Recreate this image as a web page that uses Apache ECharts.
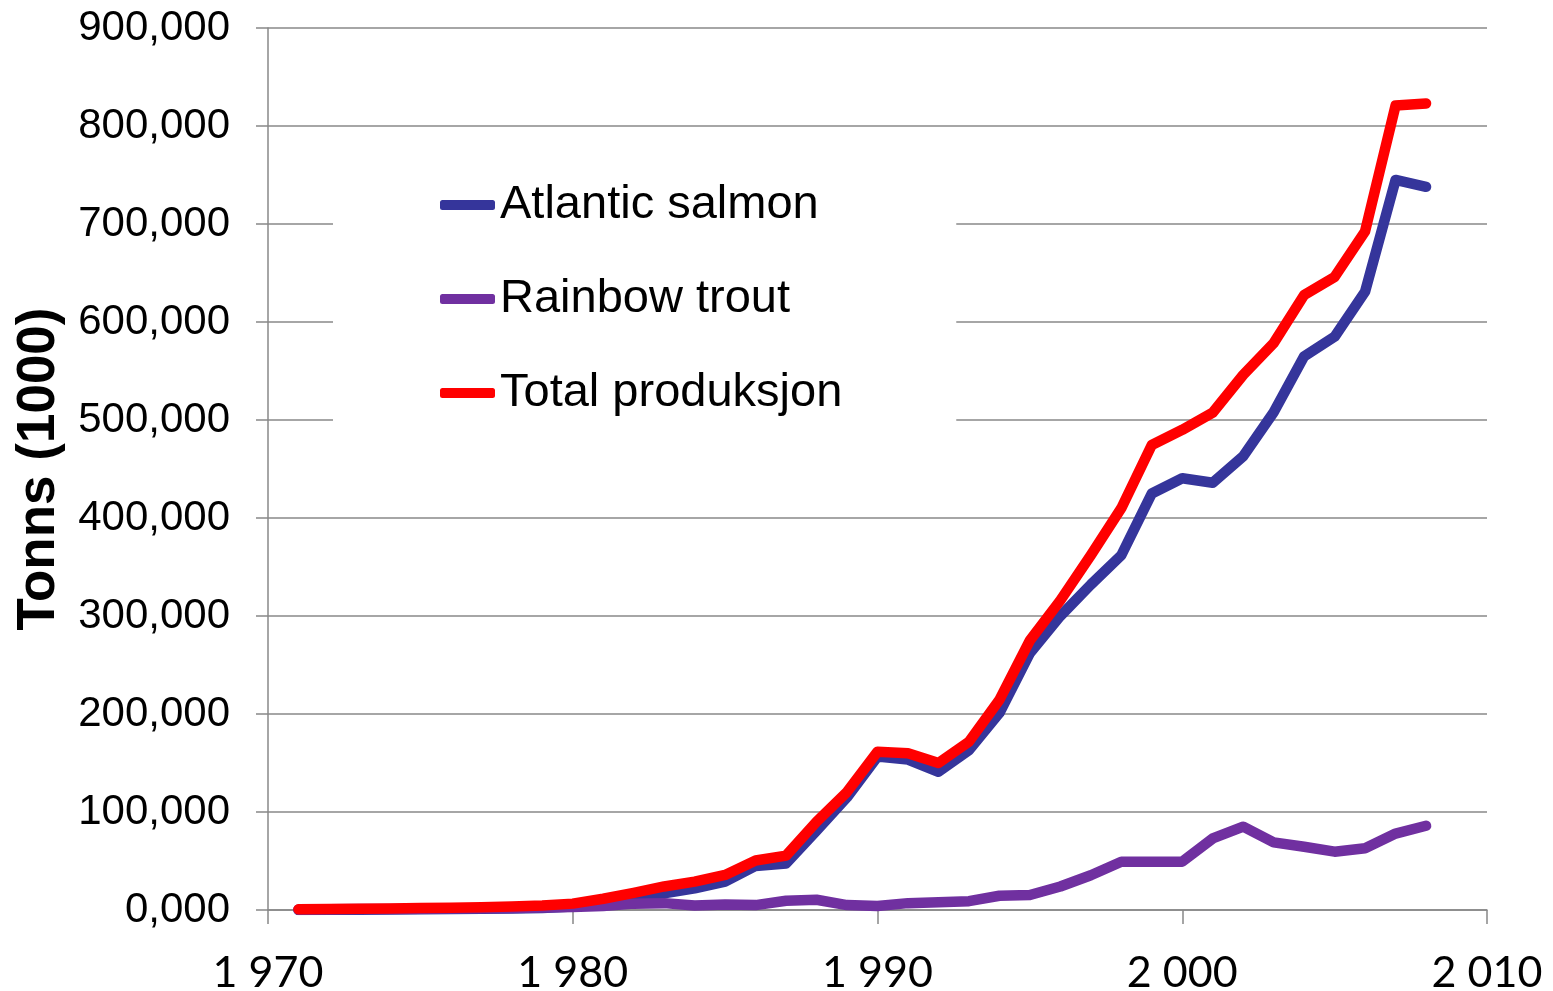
<!DOCTYPE html>
<html>
<head>
<meta charset="utf-8">
<script src="https://cdn.jsdelivr.net/npm/echarts@6/dist/echarts.min.js"></script>
<style>
html,body{margin:0;padding:0;background:#fff;}
#chart{width:1553px;height:991px;}
</style>
</head>
<body>
<div id="chart"></div>
<script>
const years = [1971,1972,1973,1974,1975,1976,1977,1978,1979,1980,1981,1982,1983,1984,1985,1986,1987,1988,1989,1990,1991,1992,1993,1994,1995,1996,1997,1998,1999,2000,2001,2002,2003,2004,2005,2006,2007,2008];
const salmon = [100,200,300,500,700,900,1200,1500,2000,3500,7000,11000,17000,22000,29000,45000,47500,81000,115000,156500,153500,141000,163000,201000,262000,300000,332000,362000,425000,440500,436000,463000,508000,565000,585000,631000,745000,738000];
const trout = [600,700,900,1100,1300,1500,1700,2000,2500,3000,4000,6500,7000,4500,5500,5000,9500,10500,5000,4000,7000,8000,9000,14500,15300,24000,35500,49300,49300,49300,73000,85000,69000,64500,59500,63000,78000,86000];
const total = [700,900,1200,1600,2000,2400,2900,3500,4500,6500,11500,17500,24000,29000,35800,50500,55500,90000,120500,161500,160000,150000,171700,214500,275000,316000,362000,410000,474500,490000,507500,546000,578500,627500,646000,692500,821000,823000];
const seriesNames = ['Atlantic salmon','Rainbow trout','Total produksjon'];
const seriesColors = ['#35359b','#7030a0','#ff0000'];
const yTickLabels = ['0,000','100,000','200,000','300,000','400,000','500,000','600,000','700,000','800,000','900,000'];
const xTickLabels = {1970:'1 970',1980:'1 980',1990:'1 990',2000:'2 000',2010:'2 010'};
const yTitle = 'Tonns (1000)';

const chart = echarts.init(document.getElementById('chart'));
const seriesData = [salmon, trout, total];
const axisGray = '#888888';
chart.setOption({
  animation: false,
  backgroundColor: '#ffffff',
  grid: {left: 268, width: 1219, top: 28, height: 882, containLabel: false, outerBoundsMode: 'none'},
  legend: {
    orient: 'vertical',
    left: 333,
    top: 152,
    padding: [25, 114, 40, 107],
    backgroundColor: '#ffffff',
    itemWidth: 55,
    itemHeight: 10,
    itemGap: 38,
    itemTextGap: 4,
    icon: 'roundRect',
    textStyle: {fontFamily: 'Liberation Sans', fontSize: 47, color: '#000', lineHeight: 56},
    data: seriesNames
  },
  xAxis: {
    type: 'value',
    min: 1970, max: 2010, interval: 10,
    axisLine: {show: true, lineStyle: {color: axisGray, width: 1.5}},
    axisTick: {show: true, length: 14, lineStyle: {color: axisGray, width: 1.5}},
    splitLine: {show: false},
    axisLabel: {
      margin: 42,
      fontFamily: 'Lato', fontSize: 43, color: '#000',
      formatter: v => xTickLabels[v] || ''
    }
  },
  yAxis: {
    type: 'value',
    min: 0, max: 900000, interval: 100000,
    name: yTitle,
    nameLocation: 'middle',
    nameGap: 202,
    nameTextStyle: {fontFamily: 'Liberation Sans', fontWeight: 'bold', fontSize: 53, color: '#000'},
    axisLine: {show: true, lineStyle: {color: axisGray, width: 1.5}},
    axisTick: {show: true, length: 12, lineStyle: {color: axisGray, width: 1.5}},
    splitLine: {show: true, lineStyle: {color: axisGray, width: 1.5}},
    axisLabel: {
      margin: 38,
      fontFamily: 'Liberation Sans', fontSize: 42, color: '#000',
      formatter: v => yTickLabels[Math.round(v / 100000)]
    }
  },
  series: seriesNames.map((n, i) => ({
    name: n,
    type: 'line',
    symbol: 'none',
    color: seriesColors[i],
    lineStyle: {width: 10.5, color: seriesColors[i], cap: 'round', join: 'round'},
    data: years.map((y, k) => [y, seriesData[i][k]])
  }))
});
</script>
</body>
</html>
